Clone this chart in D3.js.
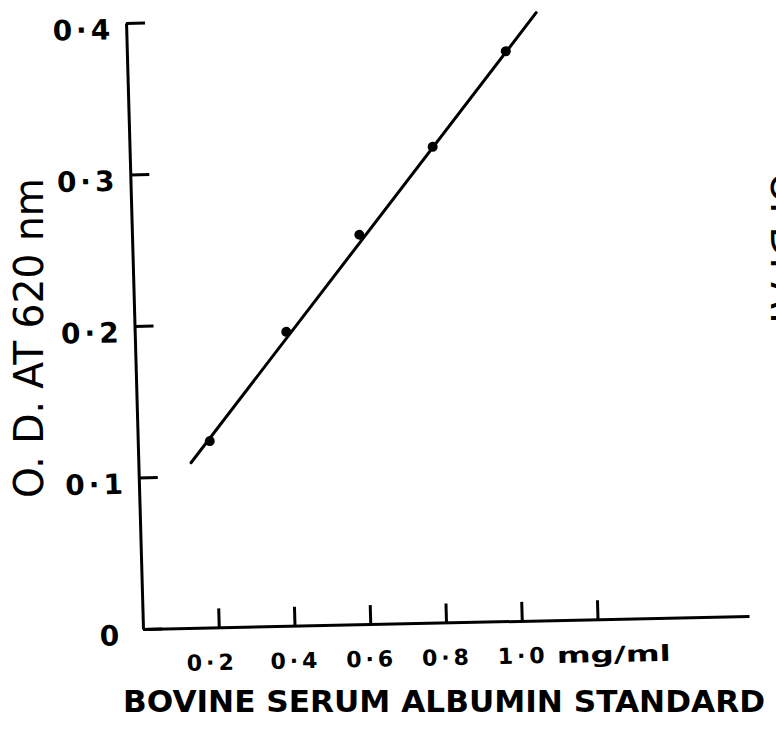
<!DOCTYPE html>
<html>
<head>
<meta charset="utf-8">
<script src="https://cdn.jsdelivr.net/npm/d3@7"></script>
<style>
  body { margin: 0; background: #fff; }
  text { font-family: "DejaVu Sans", "Liberation Sans", sans-serif; fill: #000; }
</style>
</head>
<body>
<script>
// BSA standard curve
const concentration = [0.19, 0.40, 0.60, 0.80, 1.00];
const absorbance = [0.123, 0.194, 0.257, 0.314, 0.376];

// ends of the drawn straight line
const fitConcentration = [0.139, 1.083];
const fitAbsorbance = [0.109, 0.401];

const xTicks = [0.2, 0.4, 0.6, 0.8, 1.0, 1.2];
const xTickLabels = ["0·2", "0·4", "0·6", "0·8", "1·0", ""];
const yTicks = [0, 0.1, 0.2, 0.3, 0.4];
const yTickLabels = ["0", "0·1", "0·2", "0·3", "0·4"];
const xUnit = "mg/ml";
const xTitle = "BOVINE SERUM ALBUMIN STANDARD";
const yTitle = "O. D. AT 620 nm";
// what shows of the next figure's label at the right edge
const edgeLabel = "O. D. AT";

const width = 776;
const height = 731;

const svg = d3.select("body").append("svg")
  .attr("width", width)
  .attr("height", height)
  .attr("viewBox", [0, 0, width, height]);

const x = d3.scaleLinear().domain([0, 1.6]).range([0, 606]);
const y = d3.scaleLinear().domain([0, 0.4]).range([0, -606]);

// the scan is a little skewed, so the plot frame is too
const plot = svg.append("g")
  .attr("transform", "matrix(1,-0.0215,0.028,1,143,629)");

const xAxis = d3.axisBottom(x)
  .tickValues(xTicks)
  .tickFormat((d, i) => xTickLabels[i])
  .tickSizeInner(-19)
  .tickSizeOuter(0)
  .tickPadding(27);

const yAxis = d3.axisLeft(y)
  .tickValues(yTicks)
  .tickFormat((d, i) => yTickLabels[i])
  .tickSizeInner(-19)
  .tickSizeOuter(0)
  .tickPadding(12);

const gx = plot.append("g").call(xAxis);
const gy = plot.append("g").call(yAxis);

for (const g of [gx, gy]) {
  g.attr("font-family", null).attr("font-size", null);
  g.select(".domain").attr("stroke", "#000").attr("stroke-width", 3);
  g.selectAll(".tick line").attr("stroke", "#000").attr("stroke-width", 3);
}

gx.selectAll(".tick text")
  .attr("font-size", 22)
  .attr("font-weight", "bold")
  .style("letter-spacing", "4px");
// first label sits a bit left of its tick in the original
gx.selectAll(".tick text").filter(d => d === 0.2).attr("dx", -8);

gy.selectAll(".tick text")
  .attr("font-size", 28)
  .attr("font-weight", "bold")
  .attr("dy", "0.55em")
  .style("letter-spacing", "4px");
gy.selectAll(".tick text").filter(d => d === 0).attr("dx", -8);

plot.append("text")
  .attr("x", x(1.0) + 34)
  .attr("y", 43)
  .attr("font-size", 22)
  .attr("font-weight", "bold")
  .attr("textLength", 114)
  .attr("lengthAdjust", "spacingAndGlyphs")
  .text(xUnit);

// fitted line
const line = d3.line()
  .x(d => x(d[0]))
  .y(d => y(d[1]));

plot.append("path")
  .datum(d3.zip(fitConcentration, fitAbsorbance))
  .attr("d", line)
  .attr("fill", "none")
  .attr("stroke", "#000")
  .attr("stroke-width", 3)
  .attr("stroke-linecap", "round");

plot.selectAll("circle")
  .data(d3.zip(concentration, absorbance))
  .join("circle")
  .attr("cx", d => x(d[0]))
  .attr("cy", d => y(d[1]))
  .attr("r", 5)
  .attr("fill", "#000");

// axis titles
svg.append("text")
  .attr("x", 444)
  .attr("y", 712)
  .attr("text-anchor", "middle")
  .attr("font-size", 30)
  .attr("font-weight", "bold")
  .attr("textLength", 642)
  .attr("lengthAdjust", "spacingAndGlyphs")
  .text(xTitle);

svg.append("text")
  .attr("transform", "translate(43,338) rotate(-90)")
  .attr("text-anchor", "middle")
  .attr("font-size", 40)
  .attr("textLength", 320)
  .attr("lengthAdjust", "spacingAndGlyphs")
  .text(yTitle);

// sliver of the neighbouring figure's label at the page edge
svg.append("text")
  .attr("transform", "translate(771,172) rotate(90)")
  .attr("font-size", 40)
  .attr("textLength", 158)
  .attr("lengthAdjust", "spacingAndGlyphs")
  .text(edgeLabel);
</script>
</body>
</html>
